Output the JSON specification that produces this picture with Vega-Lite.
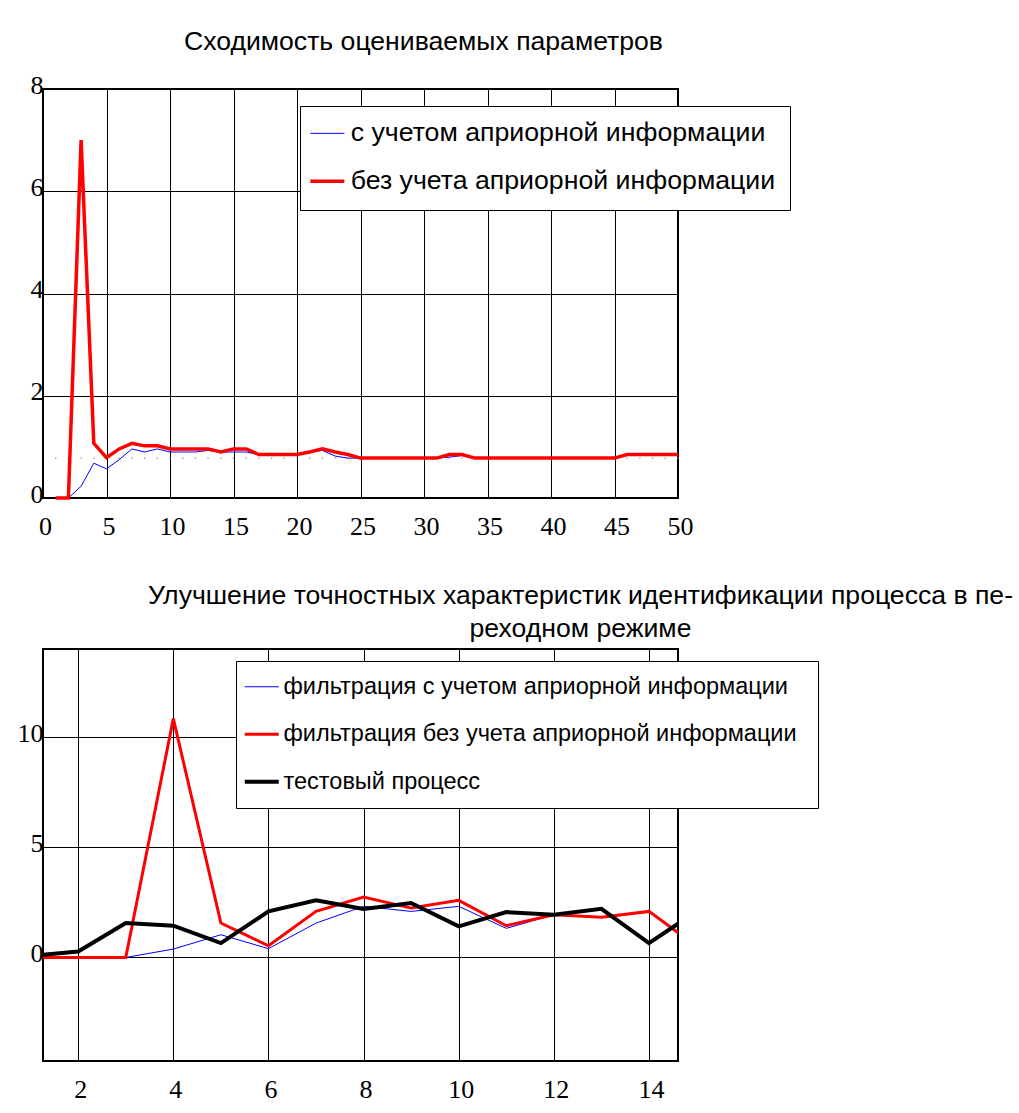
{
  "$schema": "https://vega.github.io/schema/vega-lite/v6.json",
  "background": "white",
  "padding": {"left": 2, "top": 28, "right": 0, "bottom": 0},
  "spacing": 42,
  "resolve": {"scale": {"color": "independent"}, "legend": {"color": "independent"}},
  "config": {
    "view": {"stroke": "black", "strokeWidth": 2},
    "axis": {"grid": true, "gridColor": "black", "gridOpacity": 1, "gridWidth": 1, "ticks": false, "domain": false, "labelFont": "Liberation Serif", "labelFontSize": 26, "labelColor": "black", "labelFlush": false},
    "axisX": {"labelPadding": 15, "labelOffset": 2},
    "axisY": {"labelPadding": 0, "labelOffset": -4, "minExtent": 40, "maxExtent": 40},
    "legend": {"symbolType": "stroke", "labelFont": "Liberation Sans", "labelFontSize": 26.7, "labelColor": "black", "strokeColor": "black", "fillColor": "white", "cornerRadius": 0, "padding": 14, "symbolSize": 1156, "labelOffset": 10, "labelLimit": 0, "orient": "none"},
    "title": {"font": "Liberation Sans", "fontSize": 26.6, "fontWeight": "normal", "color": "black"}
  },
  "datasets": {
    "conv": [
      {"x": 1, "y": 0, "s": "с учетом априорной информации"},
      {"x": 2, "y": 0, "s": "с учетом априорной информации"},
      {"x": 3, "y": 0.23, "s": "с учетом априорной информации"},
      {"x": 4, "y": 0.68, "s": "с учетом априорной информации"},
      {"x": 5, "y": 0.57, "s": "с учетом априорной информации"},
      {"x": 6, "y": 0.75, "s": "с учетом априорной информации"},
      {"x": 7, "y": 0.96, "s": "с учетом априорной информации"},
      {"x": 8, "y": 0.9, "s": "с учетом априорной информации"},
      {"x": 9, "y": 0.96, "s": "с учетом априорной информации"},
      {"x": 10, "y": 0.9, "s": "с учетом априорной информации"},
      {"x": 11, "y": 0.9, "s": "с учетом априорной информации"},
      {"x": 12, "y": 0.9, "s": "с учетом априорной информации"},
      {"x": 13, "y": 0.93, "s": "с учетом априорной информации"},
      {"x": 14, "y": 0.9, "s": "с учетом априорной информации"},
      {"x": 15, "y": 0.9, "s": "с учетом априорной информации"},
      {"x": 16, "y": 0.9, "s": "с учетом априорной информации"},
      {"x": 17, "y": 0.85, "s": "с учетом априорной информации"},
      {"x": 18, "y": 0.85, "s": "с учетом априорной информации"},
      {"x": 19, "y": 0.85, "s": "с учетом априорной информации"},
      {"x": 20, "y": 0.85, "s": "с учетом априорной информации"},
      {"x": 21, "y": 0.9, "s": "с учетом априорной информации"},
      {"x": 22, "y": 0.93, "s": "с учетом априорной информации"},
      {"x": 23, "y": 0.82, "s": "с учетом априорной информации"},
      {"x": 24, "y": 0.78, "s": "с учетом априорной информации"},
      {"x": 25, "y": 0.78, "s": "с учетом априорной информации"},
      {"x": 26, "y": 0.78, "s": "с учетом априорной информации"},
      {"x": 27, "y": 0.78, "s": "с учетом априорной информации"},
      {"x": 28, "y": 0.78, "s": "с учетом априорной информации"},
      {"x": 29, "y": 0.78, "s": "с учетом априорной информации"},
      {"x": 30, "y": 0.78, "s": "с учетом априорной информации"},
      {"x": 31, "y": 0.78, "s": "с учетом априорной информации"},
      {"x": 32, "y": 0.8, "s": "с учетом априорной информации"},
      {"x": 33, "y": 0.83, "s": "с учетом априорной информации"},
      {"x": 34, "y": 0.78, "s": "с учетом априорной информации"},
      {"x": 35, "y": 0.78, "s": "с учетом априорной информации"},
      {"x": 36, "y": 0.78, "s": "с учетом априорной информации"},
      {"x": 37, "y": 0.78, "s": "с учетом априорной информации"},
      {"x": 38, "y": 0.78, "s": "с учетом априорной информации"},
      {"x": 39, "y": 0.78, "s": "с учетом априорной информации"},
      {"x": 40, "y": 0.78, "s": "с учетом априорной информации"},
      {"x": 41, "y": 0.78, "s": "с учетом априорной информации"},
      {"x": 42, "y": 0.78, "s": "с учетом априорной информации"},
      {"x": 43, "y": 0.78, "s": "с учетом априорной информации"},
      {"x": 44, "y": 0.78, "s": "с учетом априорной информации"},
      {"x": 45, "y": 0.78, "s": "с учетом априорной информации"},
      {"x": 46, "y": 0.85, "s": "с учетом априорной информации"},
      {"x": 47, "y": 0.85, "s": "с учетом априорной информации"},
      {"x": 48, "y": 0.85, "s": "с учетом априорной информации"},
      {"x": 49, "y": 0.85, "s": "с учетом априорной информации"},
      {"x": 50, "y": 0.85, "s": "с учетом априорной информации"},
      {"x": 1, "y": 0, "s": "без учета априорной информации"},
      {"x": 2, "y": 0, "s": "без учета априорной информации"},
      {"x": 3, "y": 7.0, "s": "без учета априорной информации"},
      {"x": 4, "y": 1.07, "s": "без учета априорной информации"},
      {"x": 5, "y": 0.79, "s": "без учета априорной информации"},
      {"x": 6, "y": 0.96, "s": "без учета априорной информации"},
      {"x": 7, "y": 1.07, "s": "без учета априорной информации"},
      {"x": 8, "y": 1.02, "s": "без учета априорной информации"},
      {"x": 9, "y": 1.02, "s": "без учета априорной информации"},
      {"x": 10, "y": 0.96, "s": "без учета априорной информации"},
      {"x": 11, "y": 0.96, "s": "без учета априорной информации"},
      {"x": 12, "y": 0.96, "s": "без учета априорной информации"},
      {"x": 13, "y": 0.96, "s": "без учета априорной информации"},
      {"x": 14, "y": 0.9, "s": "без учета априорной информации"},
      {"x": 15, "y": 0.96, "s": "без учета априорной информации"},
      {"x": 16, "y": 0.96, "s": "без учета априорной информации"},
      {"x": 17, "y": 0.85, "s": "без учета априорной информации"},
      {"x": 18, "y": 0.85, "s": "без учета априорной информации"},
      {"x": 19, "y": 0.85, "s": "без учета априорной информации"},
      {"x": 20, "y": 0.85, "s": "без учета априорной информации"},
      {"x": 21, "y": 0.9, "s": "без учета априорной информации"},
      {"x": 22, "y": 0.96, "s": "без учета априорной информации"},
      {"x": 23, "y": 0.9, "s": "без учета априорной информации"},
      {"x": 24, "y": 0.85, "s": "без учета априорной информации"},
      {"x": 25, "y": 0.78, "s": "без учета априорной информации"},
      {"x": 26, "y": 0.78, "s": "без учета априорной информации"},
      {"x": 27, "y": 0.78, "s": "без учета априорной информации"},
      {"x": 28, "y": 0.78, "s": "без учета априорной информации"},
      {"x": 29, "y": 0.78, "s": "без учета априорной информации"},
      {"x": 30, "y": 0.78, "s": "без учета априорной информации"},
      {"x": 31, "y": 0.78, "s": "без учета априорной информации"},
      {"x": 32, "y": 0.85, "s": "без учета априорной информации"},
      {"x": 33, "y": 0.85, "s": "без учета априорной информации"},
      {"x": 34, "y": 0.78, "s": "без учета априорной информации"},
      {"x": 35, "y": 0.78, "s": "без учета априорной информации"},
      {"x": 36, "y": 0.78, "s": "без учета априорной информации"},
      {"x": 37, "y": 0.78, "s": "без учета априорной информации"},
      {"x": 38, "y": 0.78, "s": "без учета априорной информации"},
      {"x": 39, "y": 0.78, "s": "без учета априорной информации"},
      {"x": 40, "y": 0.78, "s": "без учета априорной информации"},
      {"x": 41, "y": 0.78, "s": "без учета априорной информации"},
      {"x": 42, "y": 0.78, "s": "без учета априорной информации"},
      {"x": 43, "y": 0.78, "s": "без учета априорной информации"},
      {"x": 44, "y": 0.78, "s": "без учета априорной информации"},
      {"x": 45, "y": 0.78, "s": "без учета априорной информации"},
      {"x": 46, "y": 0.85, "s": "без учета априорной информации"},
      {"x": 47, "y": 0.85, "s": "без учета априорной информации"},
      {"x": 48, "y": 0.85, "s": "без учета априорной информации"},
      {"x": 49, "y": 0.85, "s": "без учета априорной информации"},
      {"x": 50, "y": 0.85, "s": "без учета априорной информации"}
    ],
    "ref": [
      {"x": 1, "y": 0.78}, {"x": 2, "y": 0.78}, {"x": 3, "y": 0.78}, {"x": 4, "y": 0.78}, {"x": 5, "y": 0.78},
      {"x": 6, "y": 0.78}, {"x": 7, "y": 0.78}, {"x": 8, "y": 0.78}, {"x": 9, "y": 0.78}, {"x": 10, "y": 0.78},
      {"x": 11, "y": 0.78}, {"x": 12, "y": 0.78}, {"x": 13, "y": 0.78}, {"x": 14, "y": 0.78}, {"x": 15, "y": 0.78},
      {"x": 16, "y": 0.78}, {"x": 17, "y": 0.78}, {"x": 18, "y": 0.78}, {"x": 19, "y": 0.78}, {"x": 20, "y": 0.78},
      {"x": 21, "y": 0.78}, {"x": 22, "y": 0.78}, {"x": 23, "y": 0.78}, {"x": 24, "y": 0.78}, {"x": 25, "y": 0.78},
      {"x": 26, "y": 0.78}, {"x": 27, "y": 0.78}, {"x": 28, "y": 0.78}, {"x": 29, "y": 0.78}, {"x": 30, "y": 0.78},
      {"x": 31, "y": 0.78}, {"x": 32, "y": 0.78}, {"x": 33, "y": 0.78}, {"x": 34, "y": 0.78}, {"x": 35, "y": 0.78},
      {"x": 36, "y": 0.78}, {"x": 37, "y": 0.78}, {"x": 38, "y": 0.78}, {"x": 39, "y": 0.78}, {"x": 40, "y": 0.78},
      {"x": 41, "y": 0.78}, {"x": 42, "y": 0.78}, {"x": 43, "y": 0.78}, {"x": 44, "y": 0.78}, {"x": 45, "y": 0.78},
      {"x": 46, "y": 0.78}, {"x": 47, "y": 0.78}, {"x": 48, "y": 0.78}, {"x": 49, "y": 0.78}, {"x": 50, "y": 0.78}
    ],
    "filt": [
      {"x": 1, "y": 0, "s": "фильтрация с учетом априорной информации"},
      {"x": 2, "y": 0, "s": "фильтрация с учетом априорной информации"},
      {"x": 3, "y": 0, "s": "фильтрация с учетом априорной информации"},
      {"x": 4, "y": 0.38, "s": "фильтрация с учетом априорной информации"},
      {"x": 5, "y": 1.03, "s": "фильтрация с учетом априорной информации"},
      {"x": 6, "y": 0.4, "s": "фильтрация с учетом априорной информации"},
      {"x": 7, "y": 1.56, "s": "фильтрация с учетом априорной информации"},
      {"x": 8, "y": 2.32, "s": "фильтрация с учетом априорной информации"},
      {"x": 9, "y": 2.09, "s": "фильтрация с учетом априорной информации"},
      {"x": 10, "y": 2.32, "s": "фильтрация с учетом априорной информации"},
      {"x": 11, "y": 1.32, "s": "фильтрация с учетом априорной информации"},
      {"x": 12, "y": 1.94, "s": "фильтрация с учетом априорной информации"},
      {"x": 13, "y": 1.82, "s": "фильтрация с учетом априорной информации"},
      {"x": 14, "y": 2.09, "s": "фильтрация с учетом априорной информации"},
      {"x": 15, "y": 0.51, "s": "фильтрация с учетом априорной информации"},
      {"x": 1, "y": 0, "s": "фильтрация без учета априорной  информации"},
      {"x": 2, "y": 0, "s": "фильтрация без учета априорной  информации"},
      {"x": 3, "y": 0, "s": "фильтрация без учета априорной  информации"},
      {"x": 4, "y": 10.84, "s": "фильтрация без учета априорной  информации"},
      {"x": 5, "y": 1.56, "s": "фильтрация без учета априорной  информации"},
      {"x": 6, "y": 0.53, "s": "фильтрация без учета априорной  информации"},
      {"x": 7, "y": 2.09, "s": "фильтрация без учета априорной  информации"},
      {"x": 8, "y": 2.74, "s": "фильтрация без учета априорной  информации"},
      {"x": 9, "y": 2.24, "s": "фильтрация без учета априорной  информации"},
      {"x": 10, "y": 2.59, "s": "фильтрация без учета априорной  информации"},
      {"x": 11, "y": 1.44, "s": "фильтрация без учета априорной  информации"},
      {"x": 12, "y": 1.94, "s": "фильтрация без учета априорной  информации"},
      {"x": 13, "y": 1.82, "s": "фильтрация без учета априорной  информации"},
      {"x": 14, "y": 2.09, "s": "фильтрация без учета априорной  информации"},
      {"x": 15, "y": 0.51, "s": "фильтрация без учета априорной  информации"},
      {"x": 1, "y": 0.07, "s": "тестовый процесс"},
      {"x": 2, "y": 0.27, "s": "тестовый процесс"},
      {"x": 3, "y": 1.56, "s": "тестовый процесс"},
      {"x": 4, "y": 1.44, "s": "тестовый процесс"},
      {"x": 5, "y": 0.65, "s": "тестовый процесс"},
      {"x": 6, "y": 2.09, "s": "тестовый процесс"},
      {"x": 7, "y": 2.59, "s": "тестовый процесс"},
      {"x": 8, "y": 2.2, "s": "тестовый процесс"},
      {"x": 9, "y": 2.47, "s": "тестовый процесс"},
      {"x": 10, "y": 1.41, "s": "тестовый процесс"},
      {"x": 11, "y": 2.06, "s": "тестовый процесс"},
      {"x": 12, "y": 1.94, "s": "тестовый процесс"},
      {"x": 13, "y": 2.21, "s": "тестовый процесс"},
      {"x": 14, "y": 0.65, "s": "тестовый процесс"},
      {"x": 15, "y": 2.09, "s": "тестовый процесс"}
    ]
  },
  "vconcat": [
    {
      "width": 635,
      "height": 409,
      "title": {"text": "Сходимость оцениваемых параметров", "anchor": "middle", "frame": "group", "dx": 63, "offset": 16},
      "encoding": {
        "x": {"field": "x", "type": "quantitative", "title": null, "scale": {"domain": [0, 50], "nice": false, "zero": false}, "axis": {"values": [0, 5, 10, 15, 20, 25, 30, 35, 40, 45, 50]}},
        "y": {"field": "y", "type": "quantitative", "title": null, "scale": {"domain": [0, 8], "nice": false}, "axis": {"values": [0, 2, 4, 6, 8]}}
      },
      "layer": [
        {
          "data": {"name": "ref"},
          "mark": {"type": "square", "size": 2, "color": "#999999", "opacity": 1}
        },
        {
          "data": {"name": "conv"},
          "transform": [{"filter": "datum.s == 'с учетом априорной информации'"}],
          "mark": {"type": "line", "strokeWidth": 1},
          "encoding": {
            "color": {"field": "s", "type": "nominal", "scale": {"domain": ["с учетом априорной информации", "без учета априорной информации"], "range": ["#0000ff", "#ff0000"]},
              "legend": {"title": null, "legendX": 257, "legendY": 17, "rowPadding": 20,
                "encode": {"symbols": {"update": {"strokeWidth": {"signal": "datum.value == 'с учетом априорной информации' ? 1 : 3.5"}}}}}}
          }
        },
        {
          "data": {"name": "conv"},
          "transform": [{"filter": "datum.s == 'без учета априорной информации'"}],
          "mark": {"type": "line", "strokeWidth": 3.5},
          "encoding": {
            "color": {"field": "s", "type": "nominal"}
          }
        }
      ]
    },
    {
      "width": 635,
      "height": 412,
      "title": {"text": ["Улучшение точностных характеристик идентификации процесса в пе-", "реходном режиме"], "anchor": "middle", "frame": "group", "dx": 220, "offset": 6, "lineHeight": 33},
      "encoding": {
        "x": {"field": "x", "type": "quantitative", "title": null, "scale": {"domain": [1.26, 14.61], "nice": false, "zero": false}, "axis": {"values": [2, 4, 6, 8, 10, 12, 14]}},
        "y": {"field": "y", "type": "quantitative", "title": null, "scale": {"domain": [-4.7, 14.0], "nice": false, "zero": false}, "axis": {"values": [0, 5, 10]}},
        "color": {"field": "s", "type": "nominal", "scale": {"domain": ["фильтрация с учетом априорной информации", "фильтрация без учета априорной  информации", "тестовый процесс"], "range": ["#0000ff", "#ff0000", "#000000"]},
          "legend": {"title": null, "legendX": 193, "legendY": 12, "rowPadding": 22.5, "labelFontSize": 23.5,
            "encode": {"symbols": {"update": {"strokeWidth": {"signal": "datum.value == 'тестовый процесс' ? 4 : (datum.value == 'фильтрация с учетом априорной информации' ? 1 : 3)"}}}}}}
      },
      "data": {"name": "filt"},
      "layer": [
        {
          "transform": [{"filter": "datum.s == 'фильтрация с учетом априорной информации'"}],
          "mark": {"type": "line", "strokeWidth": 1, "clip": true}
        },
        {
          "transform": [{"filter": "datum.s == 'фильтрация без учета априорной  информации'"}],
          "mark": {"type": "line", "strokeWidth": 3, "clip": true}
        },
        {
          "transform": [{"filter": "datum.s == 'тестовый процесс'"}],
          "mark": {"type": "line", "strokeWidth": 4, "clip": true}
        }
      ]
    }
  ]
}
